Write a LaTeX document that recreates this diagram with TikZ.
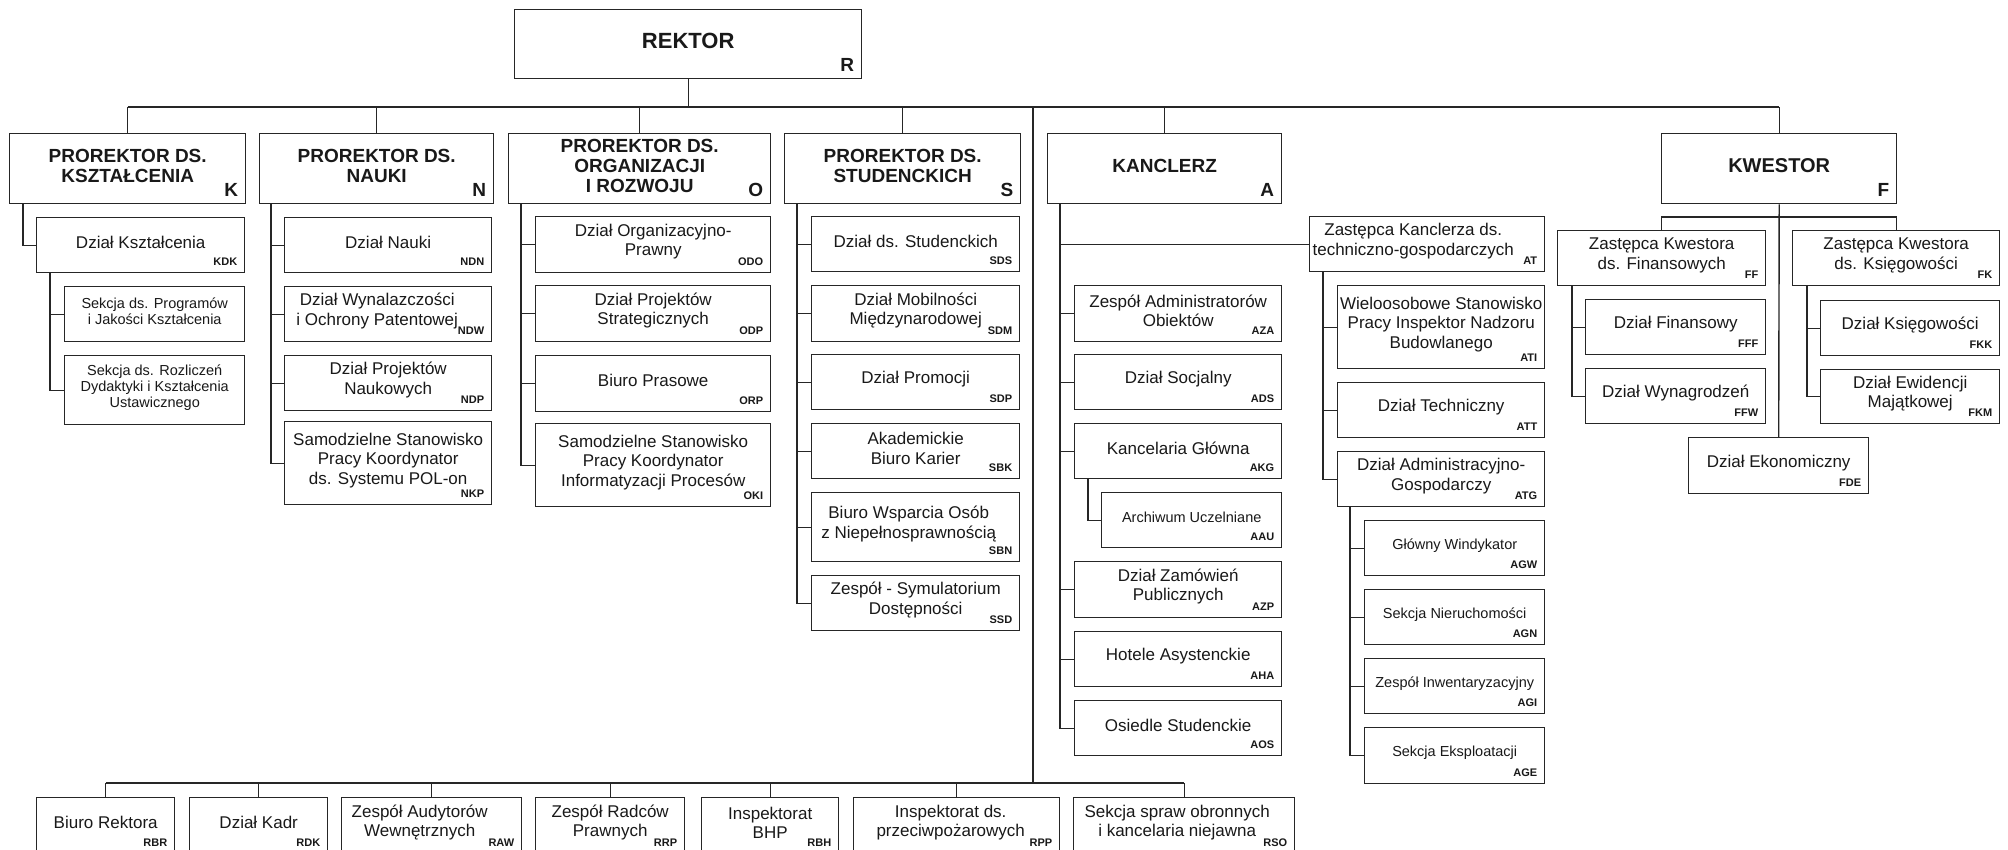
\documentclass[tikz,border=0pt]{standalone}
\usepackage{fontspec}
\setmainfont{Liberation Sans}
\tikzset{
  boxst/.style={draw=black!85, line width=1.4pt, inner sep=0pt, fill=white},
  ln/.style={draw=black!85, line width=1.4pt},
  ttl/.style={font=\fontsize{19}{20}\selectfont\bfseries, align=center, inner sep=0pt, text=black!90},
  big/.style={font=\fontsize{22}{24}\selectfont\bfseries, align=center, inner sep=0pt, text=black!90},
  nrm/.style={font=\fontsize{17}{19.5}\selectfont, align=center, inner sep=0pt, text=black!90},
  sml/.style={font=\fontsize{14.5}{16}\selectfont, align=center, inner sep=0pt, text=black!90},
  cbig/.style={font=\fontsize{19}{20}\selectfont\bfseries, anchor=base east, inner sep=0pt, text=black!90},
  csml/.style={font=\fontsize{11}{12}\selectfont\bfseries, anchor=base east, inner sep=0pt, text=black!90},
}
% #1 name, #2 x1, #3 y1, #4 x2, #5 y2, #6 text style, #7 text, #8 code style, #9 code
\newcommand{\obox}[9]{%
  \node[boxst, minimum width={(#4-#2)*1pt}, minimum height={(#5-#3)*1pt}, anchor=north west] (#1) at (#2,#3) {};
  \node[#6] (#1t) at ([yshift=3pt]#1.center) {#7};
  \node[#8] (#1c) at ([shift={(-8pt,8pt)}]#1.south east) {#9};
}
\begin{document}
\begin{tikzpicture}[x=1pt, y=-1pt]
\useasboundingbox (0,0) rectangle (2008,849);
% level 0 and 1
\obox{R}{514}{9}{861}{78}{big}{REKTOR}{cbig}{R}
\obox{K}{9}{133}{245}{203}{ttl}{PROREKTOR DS.\\KSZTAŁCENIA}{cbig}{K}
\obox{N}{259}{133}{493}{203}{ttl}{PROREKTOR DS.\\NAUKI}{cbig}{N}
\obox{O}{508}{133}{770}{203}{ttl}{PROREKTOR DS.\\ORGANIZACJI\\I ROZWOJU}{cbig}{O}
\obox{S}{784}{133}{1020}{203}{ttl}{PROREKTOR DS.\\STUDENCKICH}{cbig}{S}
\obox{A}{1047}{133}{1281}{203}{ttl}{KANCLERZ}{cbig}{A}
\obox{F}{1661}{133}{1896}{203}{ttl,font=\fontsize{20}{21}\selectfont\bfseries}{KWESTOR}{cbig}{F}
% K branch
\obox{KDK}{36}{217}{244}{272}{nrm}{Dział Kształcenia}{csml}{KDK}
\obox{KSP}{64}{286}{244}{341}{sml}{Sekcja ds. Programów\\i Jakości Kształcenia}{csml}{}
\obox{KSR}{64}{355}{244}{424}{sml}{Sekcja ds. Rozliczeń\\Dydaktyki i Kształcenia\\Ustawicznego}{csml}{}
% N branch
\obox{NDN}{284}{217}{491}{272}{nrm}{Dział Nauki}{csml}{NDN}
\obox{NDW}{284}{286}{491}{341}{nrm,xshift=-11pt}{Dział Wynalazczości\\i Ochrony Patentowej}{csml}{NDW}
\obox{NDP}{284}{355}{491}{410}{nrm}{Dział Projektów\\Naukowych}{csml}{NDP}
\obox{NKP}{284}{421}{491}{504}{nrm}{Samodzielne Stanowisko\\Pracy Koordynator\\ds. Systemu POL-on}{csml}{NKP}
% O branch
\obox{ODO}{535}{216}{770}{272}{nrm}{Dział Organizacyjno-\\Prawny}{csml}{ODO}
\obox{ODP}{535}{285}{770}{341}{nrm}{Dział Projektów\\Strategicznych}{csml}{ODP}
\obox{ORP}{535}{355}{770}{411}{nrm}{Biuro Prasowe}{csml}{ORP}
\obox{OKI}{535}{423}{770}{506}{nrm}{Samodzielne Stanowisko\\Pracy Koordynator\\Informatyzacji Procesów}{csml}{OKI}
% S branch
\obox{SDS}{811}{216}{1019}{271}{nrm}{Dział ds. Studenckich}{csml}{SDS}
\obox{SDM}{811}{285}{1019}{341}{nrm}{Dział Mobilności\\Międzynarodowej}{csml}{SDM}
\obox{SDP}{811}{354}{1019}{409}{nrm}{Dział Promocji}{csml}{SDP}
\obox{SBK}{811}{423}{1019}{478}{nrm}{Akademickie\\Biuro Karier}{csml}{SBK}
\obox{SBN}{811}{492}{1019}{561}{nrm,xshift=-7pt}{Biuro Wsparcia Osób\\z Niepełnosprawnością}{csml}{SBN}
\obox{SSD}{811}{575}{1019}{630}{nrm}{Zespół - Symulatorium\\Dostępności}{csml}{SSD}
% A branch
\obox{AZA}{1074}{285}{1281}{341}{nrm}{Zespół Administratorów\\Obiektów}{csml}{AZA}
\obox{ADS}{1074}{354}{1281}{409}{nrm}{Dział Socjalny}{csml}{ADS}
\obox{AKG}{1074}{423}{1281}{478}{nrm}{Kancelaria Główna}{csml}{AKG}
\obox{AAU}{1101}{492}{1281}{547}{sml}{Archiwum Uczelniane}{csml}{AAU}
\obox{AZP}{1074}{561}{1281}{617}{nrm}{Dział Zamówień\\Publicznych}{csml}{AZP}
\obox{AHA}{1074}{631}{1281}{686}{nrm}{Hotele Asystenckie}{csml}{AHA}
\obox{AOS}{1074}{700}{1281}{755}{nrm}{Osiedle Studenckie}{csml}{AOS}
\obox{AT}{1309}{216}{1544}{271}{nrm,xshift=-14pt}{Zastępca Kanclerza ds.\\techniczno-gospodarczych}{csml}{AT}
\obox{ATI}{1337}{285}{1544}{368}{nrm}{Wieloosobowe Stanowisko\\Pracy Inspektor Nadzoru\\Budowlanego}{csml}{ATI}
\obox{ATT}{1337}{382}{1544}{437}{nrm}{Dział Techniczny}{csml}{ATT}
\obox{ATG}{1337}{451}{1544}{506}{nrm}{Dział Administracyjno-\\Gospodarczy}{csml}{ATG}
\obox{AGW}{1364}{520}{1544}{575}{sml}{Główny Windykator}{csml}{AGW}
\obox{AGN}{1364}{589}{1544}{644}{sml}{Sekcja Nieruchomości}{csml}{AGN}
\obox{AGI}{1364}{658}{1544}{713}{sml}{Zespół Inwentaryzacyjny}{csml}{AGI}
\obox{AGE}{1364}{727}{1544}{783}{sml}{Sekcja Eksploatacji}{csml}{AGE}
% F branch
\obox{FF}{1557}{230}{1765}{285}{nrm}{Zastępca Kwestora\\ds. Finansowych}{csml}{FF}
\obox{FK}{1792}{230}{1999}{285}{nrm}{Zastępca Kwestora\\ds. Księgowości}{csml}{FK}
\obox{FFF}{1585}{299}{1765}{354}{nrm}{Dział Finansowy}{csml}{FFF}
\obox{FFW}{1585}{368}{1765}{423}{nrm}{Dział Wynagrodzeń}{csml}{FFW}
\obox{FKK}{1820}{300}{1999}{355}{nrm}{Dział Księgowości}{csml}{FKK}
\obox{FKM}{1820}{369}{1999}{423}{nrm}{Dział Ewidencji\\Majątkowej}{csml}{FKM}
\obox{FDE}{1688}{437}{1868}{493}{nrm}{Dział Ekonomiczny}{csml}{FDE}
% bottom row
\obox{RBR}{36}{797}{174}{853}{nrm}{Biuro Rektora}{csml}{RBR}
\obox{RDK}{189}{797}{327}{853}{nrm}{Dział Kadr}{csml}{RDK}
\obox{RAW}{341}{797}{521}{853}{nrm,xshift=-12pt}{Zespół Audytorów\\Wewnętrznych}{csml}{RAW}
\obox{RRP}{535}{797}{684}{853}{nrm}{Zespół Radców\\Prawnych}{csml}{RRP}
\obox{RBH}{701}{797}{838}{853}{nrm}{Inspektorat\\BHP}{csml}{RBH}
\obox{RPP}{853}{797}{1059}{853}{nrm,xshift=-6pt}{Inspektorat ds.\\przeciwpożarowych}{csml}{RPP}
\obox{RSO}{1073}{797}{1294}{853}{nrm,xshift=-7pt}{Sekcja spraw obronnych\\i kancelaria niejawna}{csml}{RSO}
% connectors: top bus
\coordinate (busY) at (0,107);
\coordinate (spine) at (1033,107);
\coordinate (botY) at (0,783);
\coordinate (fsub) at (0,217);
\draw[ln] (R.south) -- (R.south |- busY);
\draw[ln] (K.north |- busY) -- (F.north |- busY);
\foreach \n in {K,N,O,S,A,F} \draw[ln] (\n.north) -- (\n.north |- busY);
% spine and bottom bus
\draw[ln] (spine) -- (spine |- botY);
\draw[ln] (RBR.north |- botY) -- (RSO.north |- botY);
\foreach \n in {RBR,RDK,RAW,RRP,RBH,RPP,RSO} \draw[ln] (\n.north) -- (\n.north |- botY);
% side trees
\draw[ln] ([xshift=14pt]K.south west) |- (KDK.west);
\foreach \c in {KSP,KSR} \draw[ln] ([xshift=14pt]KDK.south west) |- (\c.west);
\foreach \c in {NDN,NDW,NDP,NKP} \draw[ln] ([xshift=12pt]N.south west) |- (\c.west);
\foreach \c in {ODO,ODP,ORP,OKI} \draw[ln] ([xshift=13pt]O.south west) |- (\c.west);
\foreach \c in {SDS,SDM,SDP,SBK,SBN,SSD} \draw[ln] ([xshift=13pt]S.south west) |- (\c.west);
\foreach \c in {AT,AZA,ADS,AKG,AZP,AHA,AOS} \draw[ln] ([xshift=13pt]A.south west) |- (\c.west);
\draw[ln] ([xshift=14pt]AKG.south west) |- (AAU.west);
\foreach \c in {ATI,ATT,ATG} \draw[ln] ([xshift=14pt]AT.south west) |- (\c.west);
\foreach \c in {AGW,AGN,AGI,AGE} \draw[ln] ([xshift=13pt]ATG.south west) |- (\c.west);
% kwestor
\draw[ln] (F.south) -- (FDE.north);
\draw[ln] (FF.north) -- (FF.north |- fsub) -- (FK.north |- fsub) -- (FK.north);
\foreach \c in {FFF,FFW} \draw[ln] ([xshift=15pt]FF.south west) |- (\c.west);
\foreach \c in {FKK,FKM} \draw[ln] ([xshift=15pt]FK.south west) |- (\c.west);
\end{tikzpicture}
\end{document}
